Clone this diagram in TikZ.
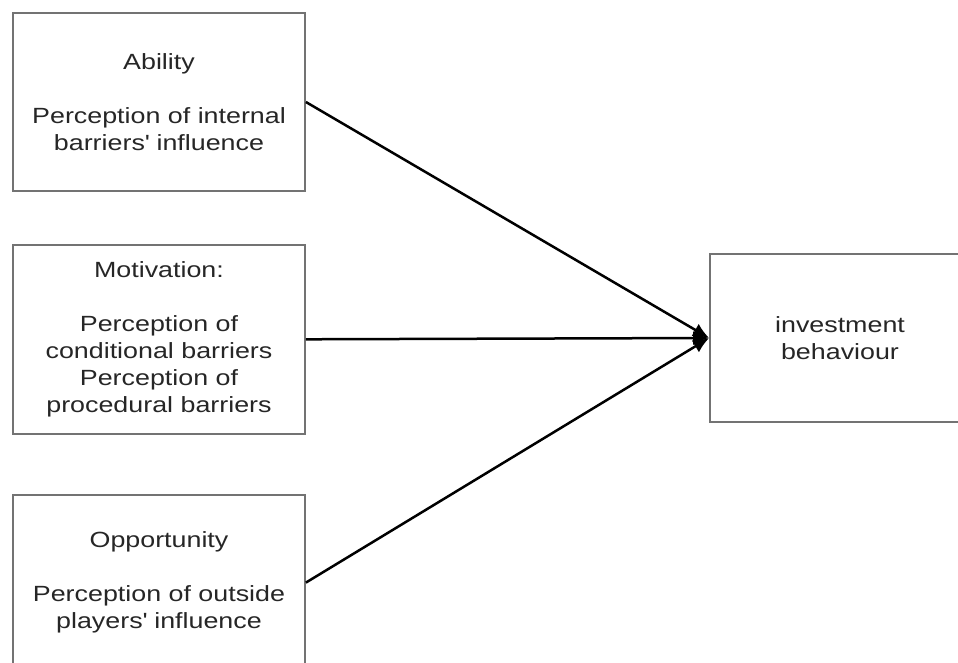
\documentclass[tikz,border=0pt]{standalone}
\usepackage{fontspec}
\setmainfont{Liberation Sans}[FakeStretch=1.22]
\usetikzlibrary{positioning,arrows.meta}

\begin{document}
\begin{tikzpicture}[x=1pt,y=-1pt,node distance=52pt,
	factor/.style={draw=black!55,line width=1.8pt,minimum width=292pt,align=center,
		inner sep=0pt,text=black!85,font=\fontsize{22}{27}\selectfont},
	link/.style={line width=2.5pt,-{Latex[length=16pt,width=14pt]}}]
	\useasboundingbox (0,0) rectangle (958,663);
	\node[factor,minimum height=178pt] (ability) at (159,102)
		{Ability\\[27pt]Perception of internal\\barriers\textquotesingle{} influence};
	\node[factor,minimum height=189pt] (motivation) [below=of ability]
		{Motivation:\\[27pt]Perception of\\conditional barriers\\Perception of\\procedural barriers};
	\node[factor,minimum height=176pt] (opportunity) [below=59pt of motivation]
		{Opportunity\\[27pt]Perception of outside\\players\textquotesingle{} influence};
	\node[factor,minimum width=260pt,minimum height=168pt] (behaviour) at (840,338)
		{investment\\behaviour};
	\path[link] (ability.east) edge (behaviour.west)
				(motivation.east) edge (behaviour.west)
				(opportunity.east) edge (behaviour.west);
\end{tikzpicture}
\end{document}
